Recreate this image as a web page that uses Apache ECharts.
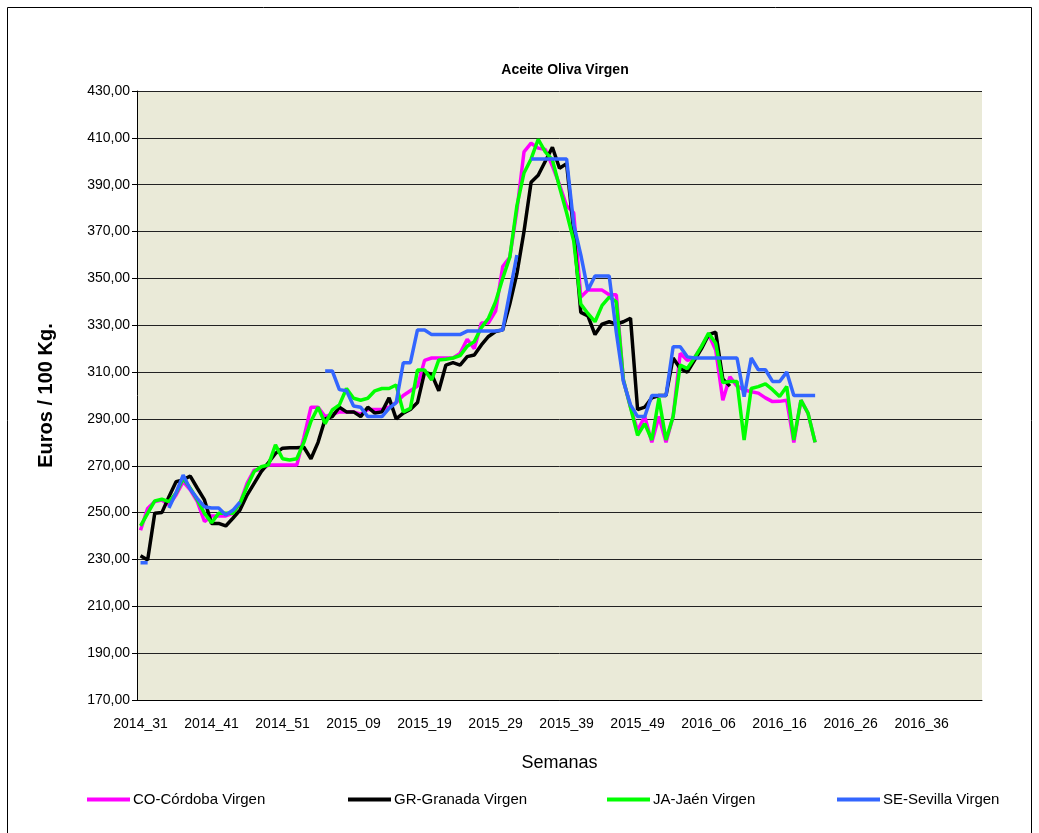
<!DOCTYPE html>
<html lang="es">
<head>
<meta charset="utf-8">
<title>Aceite Oliva Virgen</title>
<script src="https://cdn.jsdelivr.net/npm/echarts@6/dist/echarts.min.js"></script>
<style>
  html, body { margin: 0; padding: 0; background: #fff; }
  #chart { width: 1039px; height: 833px; }
</style>
</head>
<body>
<div id="chart"></div>
<script>
// semanas: [año, primera, última]
var weekRanges = [[2014, 31, 52], [2015, 1, 53], [2016, 1, 44]];
var weeks = [];
weekRanges.forEach(function (r) {
  for (var w = r[1]; w <= r[2]; w++) {
    weeks.push(r[0] + '_' + (w < 10 ? '0' + w : w));
  }
});

var seriesNames = ['CO-Córdoba Virgen', 'GR-Granada Virgen', 'JA-Jaén Virgen', 'SE-Sevilla Virgen'];

// precios €/100 kg
var cordoba = [
  242.5, 251.8, 254.7, 255.4, 253.3, 257.5, 263.2, 259.7, 254.7, 246.2,
  248.6, 248.6, 248.6, 249.7, 254.0, 262.5, 268.2, 268.2, 270.3, 270.3,
  270.3, 270.3, 270.3, 282.0, 295.0, 295.0, 291.0, 292.0, 293.0, 293.0,
  293.0, 292.0, 294.0, 294.0, 294.0, 295.0, 297.0, 300.0, 302.0, 304.0,
  315.0, 316.0, 316.0, 316.0, 316.0, 318.0, 324.0, 320.0, 331.0, 331.0,
  336.0, 355.0, 359.0, 379.0, 404.0, 407.7, 405.6, 405.0, 398.0, 390.0,
  381.0, 378.0, 342.0, 345.0, 345.0, 345.0, 343.0, 343.0, 306.6, 295.0,
  285.0, 291.0, 280.0, 291.0, 280.0, 291.0, 318.0, 315.0, 316.0, 321.0,
  326.0, 319.4, 298.0, 308.0, 304.0, 302.4, 301.6, 301.0, 299.0, 297.4,
  297.5, 298.0, 280.0, 298.0, 292.4, 280.0
];
var granada = [
  231.6, 229.8, 249.7, 250.0, 256.8, 263.2, 264.0, 265.6, 260.4, 255.4,
  245.4, 245.4, 244.3, 247.6, 251.1, 257.5, 262.5, 267.5, 271.3, 275.3,
  277.5, 277.7, 277.7, 277.9, 273.0, 280.0, 290.0, 291.0, 295.0, 293.0,
  293.0, 291.0, 295.0, 292.5, 293.0, 299.0, 290.0, 292.5, 294.0, 297.0,
  310.0, 309.0, 302.0, 313.0, 314.0, 313.0, 316.6, 317.3, 321.6, 325.2,
  327.3, 328.0, 339.0, 352.0, 370.0, 391.0, 394.0, 400.0, 406.0, 397.0,
  399.0, 370.0, 335.5, 334.0, 326.0, 330.5, 331.5, 330.5, 331.5, 333.0,
  294.0, 295.0, 299.0, 300.0, 300.0, 316.0, 311.5, 310.0, 315.0, 320.0,
  326.0, 327.0, 307.0, 304.0
];
var jaen = [
  244.3, 249.7, 255.0, 255.7, 254.7, 258.3, 264.6, 260.4, 255.4, 249.7,
  245.7, 249.7, 249.7, 249.7, 254.0, 261.1, 267.5, 269.6, 270.3, 278.9,
  273.0, 272.5, 273.0, 280.0, 289.0, 295.0, 288.0, 293.8, 296.0, 303.0,
  298.8, 298.0, 298.8, 302.0, 303.0, 303.0, 304.5, 293.0, 294.5, 310.9,
  310.9, 306.6, 315.2, 315.5, 316.0, 317.0, 321.0, 323.0, 329.0, 333.0,
  340.0, 350.0, 359.0, 381.0, 395.0, 401.0, 409.4, 404.0, 400.6, 389.0,
  378.0, 366.0, 339.0, 335.0, 331.5, 338.5, 342.0, 340.0, 306.6, 295.0,
  283.0, 288.0, 281.0, 298.8, 281.0, 291.0, 313.0, 311.5, 316.0, 321.0,
  326.6, 322.3, 305.5, 306.0, 306.0, 281.0, 303.0, 303.8, 305.0, 302.5,
  299.6, 303.8, 281.0, 298.0, 292.5, 280.0
];
var sevilla = [
  228.6, 228.6, null, null, 252.0, 258.5, 266.0, 260.0, 256.0, 252.5,
  252.0, 252.0, 249.0, 251.0, 254.5, null, null, null, null, null,
  null, null, null, null, null, null, 310.5, 310.5, 302.5, 302.0,
  295.5, 295.0, 291.0, 291.0, 291.0, 294.5, 297.0, 314.0, 314.0, 328.0,
  328.0, 326.0, 326.0, 326.0, 326.0, 326.0, 327.5, 327.5, 327.5, 327.5,
  327.5, 328.0, 344.0, 360.0, null, 401.0, 401.0, 401.0, 401.0, 401.0,
  401.0, 373.0, 360.0, 345.0, 351.0, 351.0, 351.0, 327.0, 306.0, 296.0,
  291.0, 291.0, 300.0, 300.0, 300.0, 320.8, 320.8, 316.5, 316.0, 316.0,
  316.0, 316.0, 316.0, 316.0, 316.0, 299.5, 316.0, 311.0, 311.0, 306.0,
  306.0, 310.0, 300.0, 300.0, 300.0, 300.0
];

var colors = ['#FF00FF', '#000000', '#00FF00', '#3366FF'];
var legendLeft = [87, 348, 607, 837];
var font = "'Liberation Sans', Arial, sans-serif";

var chart = echarts.init(document.getElementById('chart'));

function makeLine(name, data, color) {
  return {
    name: name,
    type: 'line',
    data: data,
    showSymbol: false,
    symbol: 'none',
    connectNulls: false,
    lineStyle: { color: color, width: 3.5 },
    itemStyle: { color: color }
  };
}

// una leyenda por serie para fijar su posición
var legends = seriesNames.map(function (n, i) {
  return {
    data: [n],
    left: legendLeft[i],
    top: 792,
    padding: 0,
    itemWidth: 43,
    itemHeight: 4,
    icon: 'rect',
    textStyle: { fontFamily: font, fontSize: 15, color: '#000', padding: [0, 0, 0, -2] }
  };
});

var option = {
  animation: false,
  backgroundColor: '#ffffff',
  textStyle: { fontFamily: font, color: '#000' },
  title: {
    text: 'Aceite Oliva Virgen',
    left: 560,
    top: 58,
    textAlign: 'center',
    textStyle: { fontFamily: font, fontSize: 14, fontWeight: 'bold', color: '#000' }
  },
  grid: {
    left: 137, right: 57, top: 91, bottom: 133,
    show: true, backgroundColor: '#EAEAD8', borderWidth: 0
  },
  legend: legends,
  xAxis: {
    type: 'category',
    data: weeks,
    boundaryGap: true,
    name: 'Semanas',
    nameLocation: 'middle',
    nameGap: 54,
    nameTextStyle: { fontFamily: font, fontSize: 18, color: '#000' },
    axisLine: { lineStyle: { color: '#000', width: 1 } },
    axisTick: { interval: 9, length: 5, lineStyle: { color: '#000' } },
    axisLabel: { interval: 9, fontSize: 14, color: '#000', margin: 17, fontFamily: font },
    splitLine: { show: false }
  },
  yAxis: {
    type: 'value',
    min: 170,
    max: 430,
    interval: 20,
    name: 'Euros / 100 Kg.',
    nameLocation: 'middle',
    nameGap: 81,
    nameRotate: 90,
    nameTextStyle: { fontFamily: font, fontSize: 20, fontWeight: 'bold', color: '#000' },
    axisLine: { show: true, lineStyle: { color: '#000', width: 1 } },
    axisTick: { show: true, length: 5, lineStyle: { color: '#000' } },
    axisLabel: {
      fontSize: 14, color: '#000', margin: 7, fontFamily: font,
      formatter: function (v) { return v.toFixed(2).replace('.', ','); }
    },
    splitLine: { lineStyle: { color: '#222', width: 1 } }
  },
  graphic: [{
    type: 'rect',
    shape: { x: 7.5, y: 7.5, width: 1024, height: 840 },
    style: { fill: 'none', stroke: '#000', lineWidth: 1 },
    silent: true
  }],
  series: [
    makeLine(seriesNames[0], cordoba, colors[0]),
    makeLine(seriesNames[1], granada, colors[1]),
    makeLine(seriesNames[2], jaen, colors[2]),
    makeLine(seriesNames[3], sevilla, colors[3])
  ]
};

chart.setOption(option);
</script>
</body>
</html>
